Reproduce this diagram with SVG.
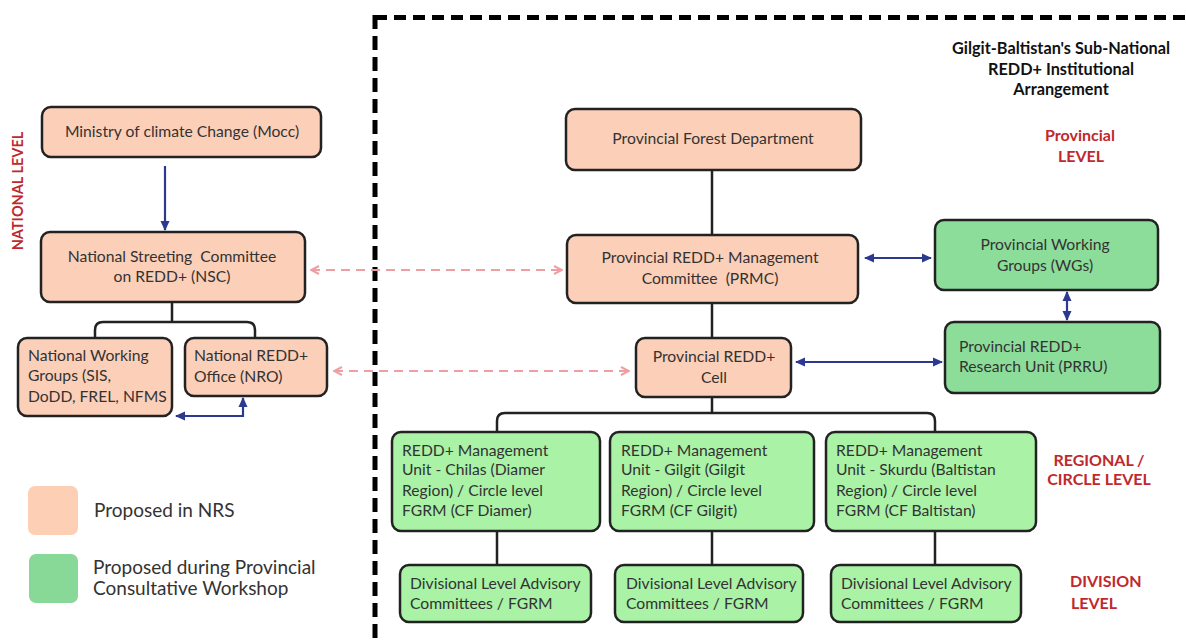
<svg xmlns="http://www.w3.org/2000/svg" width="1186" height="644" viewBox="0 0 1186 644">
<defs>
<marker id="bh" viewBox="0 0 10 10" refX="9" refY="5" markerWidth="10" markerHeight="10" markerUnits="userSpaceOnUse" orient="auto-start-reverse"><path d="M0,0.5 L10,5 L0,9.5 z" fill="#2b3990"/></marker>
<marker id="ph" viewBox="0 0 10 10" refX="9" refY="5" markerWidth="10" markerHeight="10" markerUnits="userSpaceOnUse" orient="auto-start-reverse"><path d="M1,1 L9,5 L1,9" fill="none" stroke="#ef9ea3" stroke-width="2"/></marker>
</defs>
<style>
.box{stroke:#222;stroke-width:2.5}
.peach{fill:#fccfb8}
.green{fill:#8cdc9a}
.lgreen{fill:#a9f2a6}
.t{font-family:Lato,"Open Sans",sans-serif;font-size:15.7px;fill:#333;white-space:pre}
.c{text-anchor:middle}
.red{font-family:Lato,"Liberation Sans",sans-serif;font-size:16px;font-weight:bold;fill:#c0282d}
.title{font-family:Lato,"Liberation Sans",sans-serif;font-size:16.3px;font-weight:bold;fill:#111;text-anchor:middle}
.ln{fill:none;stroke:#222;stroke-width:2.5}
.bl{fill:none;stroke:#2b3990;stroke-width:2.2;marker-start:url(#bh);marker-end:url(#bh)}
.pk{fill:none;stroke:#ef9ea3;stroke-width:2.2;stroke-dasharray:9 6;marker-start:url(#ph);marker-end:url(#ph)}
.lg{font-family:Lato,"Open Sans",sans-serif;font-size:19px;fill:#333}
</style>
<rect width="1186" height="644" fill="#fff"/>
<g id="border">
<path d="M375,17.5 H1186" fill="none" stroke="#000" stroke-width="5" stroke-dasharray="12 7"/>
<path d="M375,15 V644" fill="none" stroke="#000" stroke-width="5" stroke-dasharray="14 7"/>
</g>
<g id="labels">
<text class="title" x="1061" y="54">Gilgit-Baltistan's Sub-National</text>
<text class="title" x="1061" y="75">REDD+ Institutional</text>
<text class="title" x="1061" y="95">Arrangement</text>
<text class="red" x="1080" y="141" text-anchor="middle">Provincial</text>
<text class="red" x="1081" y="162" text-anchor="middle">LEVEL</text>
<text class="red" x="1099" y="466" text-anchor="middle">REGIONAL /</text>
<text class="red" x="1099" y="485" text-anchor="middle">CIRCLE LEVEL</text>
<text class="red" x="1070" y="587">DIVISION</text>
<text class="red" x="1071" y="609">LEVEL</text>
<text class="red" transform="translate(23,191) rotate(-90)" text-anchor="middle" style="font-size:14.5px">NATIONAL LEVEL</text>
</g>
<g id="connectors">
<line class="bl" x1="165" y1="166" x2="165" y2="230" style="marker-start:none"/>
<path class="ln" d="M172,302 V322 M95,338 V330 Q95,322 103,322 H247 Q255,322 255,330 V338"/>
<path class="bl" d="M176,416 H243 V398"/>
<path class="pk" d="M311,270 H562"/>
<path class="pk" d="M334,371 H629"/>
<path class="ln" d="M712,170 V235 M712,303 V338 M712,397 V413 M497,432 V421 Q497,413 505,413 H927 Q935,413 935,421 V432"/>
<path class="ln" d="M497,531 V565 M712,531 V565 M935,531 V565"/>
<path class="bl" d="M865,258 H931"/>
<path class="bl" d="M1067,292 V320"/>
<path class="bl" d="M796,362 H942"/>
</g>
<g id="mocc"><rect class="box peach" x="42" y="107" width="279" height="50" rx="9"/><text class="t c" x="182" y="137">Ministry of climate Change (Mocc)</text></g>
<g id="nsc"><rect class="box peach" x="41" y="232" width="264" height="70" rx="9"/><text class="t c" x="172" y="262">National Streeting  Committee</text><text class="t c" x="172" y="282">on REDD+ (NSC)</text></g>
<g id="nwg"><rect class="box peach" x="18" y="338" width="154" height="78" rx="9"/><text class="t" x="28" y="361">National Working</text><text class="t" x="28" y="381">Groups (SIS,</text><text class="t" x="28" y="402">DoDD, FREL, NFMS</text></g>
<g id="nro"><rect class="box peach" x="185" y="338" width="142" height="58" rx="9"/><text class="t" x="194" y="361">National REDD+</text><text class="t" x="194" y="382">Office (NRO)</text></g>
<g id="pfd"><rect class="box peach" x="566" y="109" width="295" height="61" rx="9"/><text class="t c" x="713" y="144">Provincial Forest Department</text></g>
<g id="prmc"><rect class="box peach" x="567" y="235" width="291" height="68" rx="9"/><text class="t c" x="710" y="263">Provincial REDD+ Management</text><text class="t c" x="710" y="284">Committee  (PRMC)</text></g>
<g id="cell"><rect class="box peach" x="636" y="338" width="155" height="59" rx="9"/><text class="t c" x="714" y="362">Provincial REDD+</text><text class="t c" x="714" y="383">Cell</text></g>
<g id="wgs"><rect class="box green" x="935" y="220" width="223" height="70" rx="9"/><text class="t c" x="1045" y="250">Provincial Working</text><text class="t c" x="1045" y="271">Groups (WGs)</text></g>
<g id="prru"><rect class="box green" x="945" y="322" width="215" height="71" rx="9"/><text class="t" x="959" y="352">Provincial REDD+</text><text class="t" x="959" y="372">Research Unit (PRRU)</text></g>
<g id="rmu1"><rect class="box lgreen" x="392" y="432" width="208" height="99" rx="9"/><text class="t" x="402" y="456">REDD+ Management</text><text class="t" x="402" y="475">Unit - Chilas (Diamer</text><text class="t" x="402" y="496">Region) / Circle level</text><text class="t" x="402" y="516">FGRM (CF Diamer)</text></g>
<g id="rmu2"><rect class="box lgreen" x="610" y="432" width="204" height="99" rx="9"/><text class="t" x="621" y="456">REDD+ Management</text><text class="t" x="621" y="475">Unit - Gilgit (Gilgit</text><text class="t" x="621" y="496">Region) / Circle level</text><text class="t" x="621" y="516">FGRM (CF Gilgit)</text></g>
<g id="rmu3"><rect class="box lgreen" x="826" y="432" width="210" height="99" rx="9"/><text class="t" x="836" y="456">REDD+ Management</text><text class="t" x="836" y="475">Unit - Skurdu (Baltistan</text><text class="t" x="836" y="496">Region) / Circle level</text><text class="t" x="836" y="516">FGRM (CF Baltistan)</text></g>
<g id="dla1"><rect class="box lgreen" x="400" y="565" width="191" height="57" rx="9"/><text class="t" x="410" y="589">Divisional Level Advisory</text><text class="t" x="410" y="609">Committees / FGRM</text></g>
<g id="dla2"><rect class="box lgreen" x="615" y="565" width="188" height="57" rx="9"/><text class="t" x="626" y="589">Divisional Level Advisory</text><text class="t" x="626" y="609">Committees / FGRM</text></g>
<g id="dla3"><rect class="box lgreen" x="831" y="565" width="190" height="57" rx="9"/><text class="t" x="841" y="589">Divisional Level Advisory</text><text class="t" x="841" y="609">Committees / FGRM</text></g>
<g id="legend">
<rect x="28" y="486" width="50" height="49" rx="7" fill="#fdd0b6"/>
<text class="lg" x="94" y="517">Proposed in NRS</text>
<rect x="29" y="554" width="49" height="49" rx="7" fill="#88d898"/>
<text class="lg" x="93" y="574">Proposed during Provincial</text>
<text class="lg" x="93" y="595">Consultative Workshop</text>
</g>
</svg>
